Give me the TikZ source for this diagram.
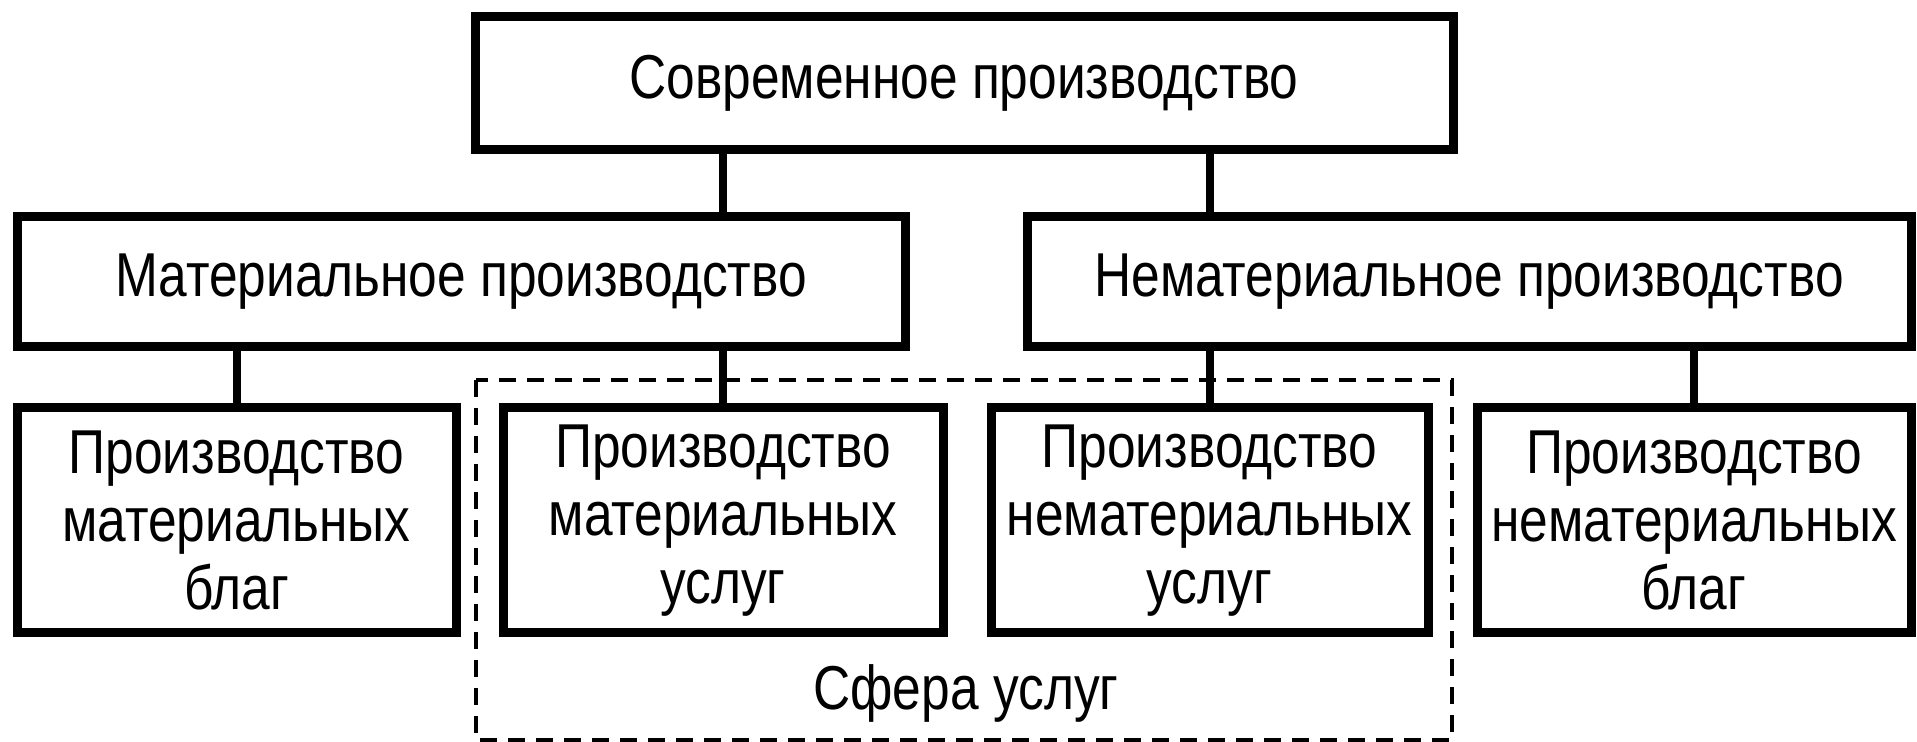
\documentclass[tikz,border=0pt]{standalone}
\usepackage{fontspec}
\setmainfont{Liberation Sans}[FakeStretch=0.83]
\begin{document}
\begin{tikzpicture}[x=0.5pt,y=-0.5pt]
\tikzstyle{every node}=[inner sep=0pt, align=center, font=\fontsize{31}{34}\selectfont]
\tikzstyle{box}=[draw, rectangle, line width=4.5pt]
\tikzstyle{sub}=[box, minimum height=112.5pt]
\tikzstyle{conn}=[line width=4pt]
\useasboundingbox (0,0) rectangle (1917,742);
% services area
\draw [line width=1.8pt, dash pattern=on 8.5pt off 5.5pt] (476,380) rectangle (1452,740);
\draw (966,710) node (sfera) [anchor=base] {Сфера услуг};
\draw (964,83.5) node (top) [box, minimum width=489pt, minimum height=66.5pt] {Современное производство};
\draw (461,282) node (matl) [box, minimum width=444pt, minimum height=65pt] {Материальное производство};
\draw (1469,282) node (nonmatl) [box, minimum width=442pt, minimum height=65pt] {Нематериальное производство};
\draw (236.5,520.5) node (b1) [sub, minimum width=219.5pt] {Производство\\материальных\\благ};
\draw (723,520.5) node (b2) [sub, minimum width=220pt] {Производство\\материальных\\услуг};
\draw (1209.5,520.5) node (b3) [sub, minimum width=218.5pt] {Производство\\нематериальных\\услуг};
\draw (1694,520.5) node (b4) [sub, minimum width=217pt] {Производство\\нематериальных\\благ};
\draw [conn] (top.south -| b2) -- (matl.north -| b2);
\draw [conn] (top.south -| b3) -- (nonmatl.north -| b3);
\draw [conn] (matl.south -| b1) -- (b1.north);
\draw [conn] (matl.south -| b2) -- (b2.north);
\draw [conn] (nonmatl.south -| b3) -- (b3.north);
\draw [conn] (nonmatl.south -| b4) -- (b4.north);
\end{tikzpicture}
\end{document}
